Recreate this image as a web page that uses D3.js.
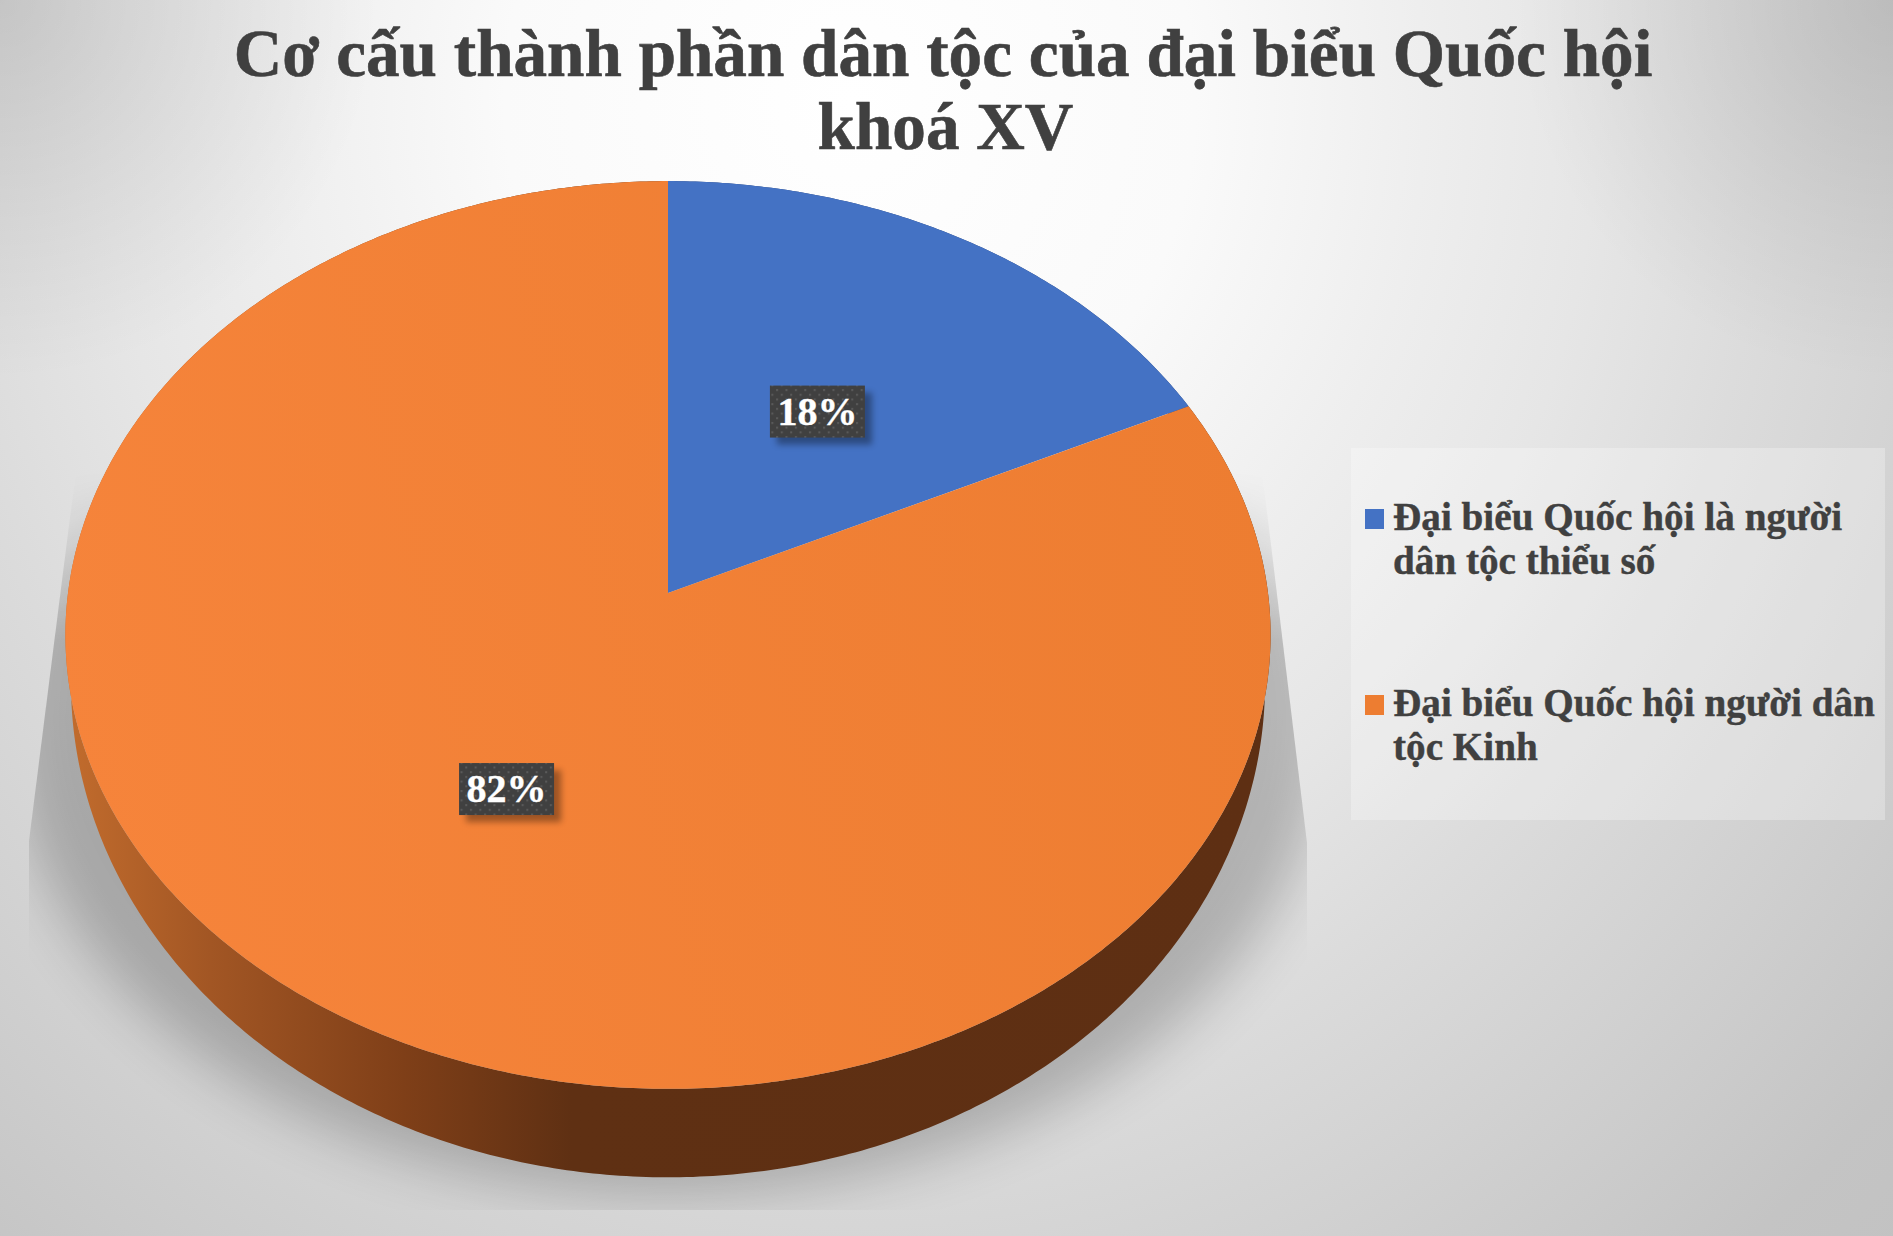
<!DOCTYPE html>
<html>
<head>
<meta charset="utf-8">
<script src="https://cdn.jsdelivr.net/npm/d3@7"></script>
<style>
  html, body { margin: 0; padding: 0; background: #d0d0d0; overflow: hidden; }
  svg { display: block; }
  text { font-family: "Liberation Serif", serif; font-weight: bold; }
</style>
</head>
<body>
<script>
const categories = ['Đại biểu Quốc hội là người dân tộc thiểu số', 'Đại biểu Quốc hội người dân tộc Kinh'];
const values = [17.9, 82.1];
const valueLabels = ['18%', '82%'];
const titleLines = ['Cơ cấu thành phần dân tộc của đại biểu Quốc hội', 'khoá XV'];
const legendLines = [['Đại biểu Quốc hội là người', 'dân tộc thiểu số'], ['Đại biểu Quốc hội người dân', 'tộc Kinh']];
const colors = ['#4472c4', '#ed7d31'];

const width = 1893, height = 1236;

const svg = d3.select('body').append('svg').attr('width', width).attr('height', height);
const defs = svg.append('defs');

// page background: wide radial light plus darker top corners
const bg = defs.append('radialGradient').attr('id', 'bg').attr('gradientUnits', 'userSpaceOnUse')
  .attr('cx', 0).attr('cy', 0).attr('r', 1)
  .attr('gradientTransform', 'translate(850,100) scale(1610,1750)');
[[0, '#ffffff'], [0.3, '#fafafa'], [0.5, '#eeeeee'], [0.65, '#e6e6e6'], [0.8, '#dcdcdc'], [1, '#d0d0d0'], [1.2, '#c4c4c4'], [1.4, '#c0c0c0']]
  .forEach(s => bg.append('stop').attr('offset', s[0] / 1.4).attr('stop-color', s[1]));
svg.append('rect').attr('width', width).attr('height', height).attr('fill', 'url(#bg)');

const corner = defs.append('radialGradient').attr('id', 'corner');
corner.append('stop').attr('offset', 0).attr('stop-color', '#000').attr('stop-opacity', 0.12);
corner.append('stop').attr('offset', 1).attr('stop-color', '#000').attr('stop-opacity', 0);
[0, width].forEach(x => svg.append('circle').attr('cx', x).attr('cy', 0).attr('r', 380).attr('fill', 'url(#corner)'));

// perspective disc: top rim and bottom rim of the pie
const topRim = { cx: 668, cy: 593, a: 600, b: 450, k: 0.0925 };
const bottomRim = { cx: 668, cy: 629, a: 593.4, b: 488, k: 0.11 };

function project(rim, angle, r) {
  const u = Math.sin(angle) * r, v = -Math.cos(angle) * r;
  const w = 1 - rim.k * v;
  return [rim.cx + rim.a * u / w, rim.cy + rim.b * v / w];
}

const pie = d3.pie().sort(null).value(d => d);
const arcs = pie(values);
const line = d3.line();

function rimPoints(rim, a0, a1) {
  const n = Math.ceil((a1 - a0) / 0.01);
  return d3.range(n + 1).map(i => project(rim, a0 + (a1 - a0) * i / n, 1));
}

// shadow under the pie, fades out towards its top edge
defs.append('filter').attr('id', 'blur').attr('x', '-20%').attr('y', '-20%').attr('width', '140%').attr('height', '140%')
  .append('feGaussianBlur').attr('stdDeviation', 28);
defs.append('clipPath').attr('id', 'shadowClip').append('path')
  .attr('d', 'M76,470L29,841L29,1210L1307,1210L1307,843L1262,470Z');
const fade = defs.append('linearGradient').attr('id', 'shadowFade').attr('gradientUnits', 'userSpaceOnUse')
  .attr('x1', 0).attr('x2', 0).attr('y1', 470).attr('y2', 640);
fade.append('stop').attr('offset', 0).attr('stop-color', '#000');
fade.append('stop').attr('offset', 1).attr('stop-color', '#fff');
defs.append('mask').attr('id', 'shadowMask').attr('maskUnits', 'userSpaceOnUse')
  .attr('x', 0).attr('y', 0).attr('width', width).attr('height', height)
  .append('rect').attr('width', width).attr('height', height).attr('fill', 'url(#shadowFade)');
svg.append('g').attr('clip-path', 'url(#shadowClip)').attr('mask', 'url(#shadowMask)')
  .append('ellipse')
  .attr('cx', 668).attr('cy', 720).attr('rx', 660).attr('ry', 475)
  .attr('fill', '#000').attr('opacity', 0.22).attr('filter', 'url(#blur)');

// side wall
const wall = defs.append('linearGradient').attr('id', 'wall').attr('gradientUnits', 'userSpaceOnUse')
  .attr('x1', 66).attr('x2', 1270).attr('y1', 0).attr('y2', 0);
[[0, '#c26c2d'], [0.12, '#a25624'], [0.28, '#7f3f18'], [0.42, '#5f3013'], [1, '#5e2f13']].forEach(s =>
  wall.append('stop').attr('offset', s[0]).attr('stop-color', s[1]));

svg.append('g').selectAll('path').data(arcs).join('path')
  .attr('d', d => line(rimPoints(bottomRim, d.startAngle, d.endAngle)
    .concat(rimPoints(topRim, d.startAngle, d.endAngle).reverse())) + 'Z')
  .attr('fill', (d, i) => i === 1 ? 'url(#wall)' : '#2b4478');

// top face
const orange = defs.append('linearGradient').attr('id', 'orangeTop').attr('gradientUnits', 'userSpaceOnUse')
  .attr('x1', 65).attr('x2', 1270).attr('y1', 800).attr('y2', 500);
orange.append('stop').attr('offset', 0).attr('stop-color', '#f6843b');
orange.append('stop').attr('offset', 1).attr('stop-color', colors[1]);

svg.append('g').selectAll('path').data(arcs).join('path')
  .attr('d', d => line([[topRim.cx, topRim.cy]].concat(rimPoints(topRim, d.startAngle, d.endAngle))) + 'Z')
  .attr('fill', (d, i) => i === 1 ? 'url(#orangeTop)' : colors[0]);

// data labels
const dots = defs.append('pattern').attr('id', 'dots').attr('patternUnits', 'userSpaceOnUse')
  .attr('width', 9.4).attr('height', 9.4);
dots.append('rect').attr('width', 9.4).attr('height', 9.4).attr('fill', '#404040');
dots.append('rect').attr('x', 1).attr('y', 1).attr('width', 2).attr('height', 2).attr('fill', '#5a5a5a');
dots.append('rect').attr('x', 5.7).attr('y', 5.7).attr('width', 2).attr('height', 2).attr('fill', '#5a5a5a');

const labelShadow = defs.append('filter').attr('id', 'labelShadow').attr('x', '-30%').attr('y', '-30%').attr('width', '170%').attr('height', '180%');
labelShadow.append('feGaussianBlur').attr('stdDeviation', 3);

const labelW = 95, labelH = 52;
const labels = svg.append('g').selectAll('g').data(arcs).join('g')
  .attr('transform', d => {
    const p = project(topRim, (d.startAngle + d.endAngle) / 2, 0.495);
    return `translate(${topRim.cx + (p[0] - topRim.cx) * 0.98},${p[1]})`;
  });
labels.append('rect')
  .attr('x', -labelW / 2 + 7).attr('y', -labelH / 2 + 7).attr('width', labelW).attr('height', labelH)
  .attr('fill', '#000').attr('opacity', 0.35).attr('filter', 'url(#labelShadow)');
labels.append('rect')
  .attr('x', -labelW / 2).attr('y', -labelH / 2).attr('width', labelW).attr('height', labelH)
  .attr('fill', 'url(#dots)');
labels.append('text')
  .attr('text-anchor', 'middle').attr('y', 13)
  .attr('font-size', 40).attr('fill', '#fff')
  .attr('stroke', '#fff').attr('stroke-width', 0.4)
  .text((d, i) => valueLabels[i]);

// title
svg.append('g').selectAll('text').data(titleLines).join('text')
  .attr('x', (d, i) => i ? 945.5 : 943).attr('y', (d, i) => 76 + i * 73)
  .attr('text-anchor', 'middle')
  .attr('font-size', 67.2).attr('fill', '#404040')
  .attr('stroke', '#404040').attr('stroke-width', 0.6)
  .text(d => d);

// legend
svg.append('rect')
  .attr('x', 1351).attr('y', 448).attr('width', 534).attr('height', 372)
  .attr('fill', '#fff').attr('opacity', 0.28);

const legend = svg.append('g').selectAll('g').data(categories).join('g')
  .attr('transform', (d, i) => `translate(1365,${509 + i * 186})`);
legend.append('rect').attr('width', 19).attr('height', 20).attr('fill', (d, i) => colors[i]);
legend.append('g').selectAll('text').data((d, i) => legendLines[i]).join('text')
  .attr('x', 28).attr('y', (d, i) => 21 + i * 44)
  .attr('font-size', 39.2).attr('fill', '#404040')
  .attr('stroke', '#404040').attr('stroke-width', 0.4)
  .text(d => d);
</script>
</body>
</html>
